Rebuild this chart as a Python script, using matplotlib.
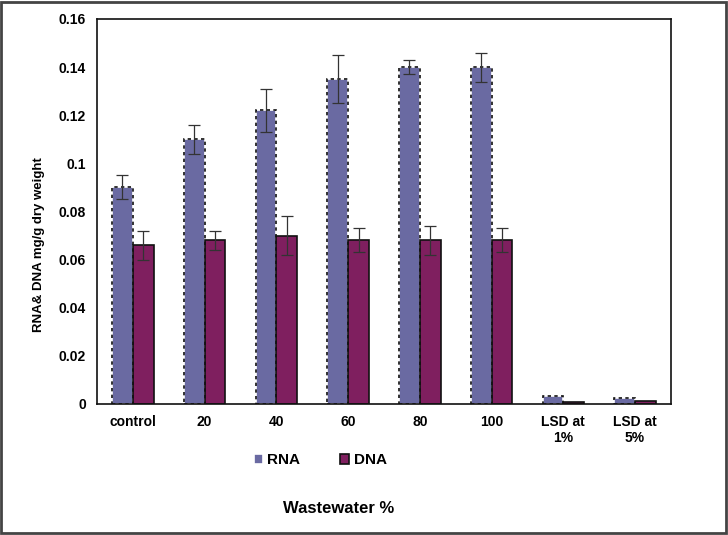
import numpy as np
import matplotlib
matplotlib.use('Agg')
import matplotlib.pyplot as plt
from matplotlib.patches import Rectangle

plt.rcParams['font.family'] = ['Liberation Sans', 'DejaVu Sans']
plt.rcParams['font.weight'] = 'bold'

# data
groups = ['control', '20', '40', '60', '80', '100', 'LSD at\n1%', 'LSD at\n5%']
rna = [0.090, 0.110, 0.122, 0.135, 0.140, 0.140, 0.0033, 0.0025]
rna_err = [0.005, 0.006, 0.009, 0.010, 0.003, 0.006, 0, 0]
dna = [0.066, 0.068, 0.070, 0.068, 0.068, 0.068, 0.0008, 0.0012]
dna_err = [0.006, 0.004, 0.008, 0.005, 0.006, 0.005, 0, 0]

x = np.arange(len(groups))
w = 0.29

fig = plt.figure(figsize=(7.28, 5.35), dpi=100)
ax = fig.add_axes([0.1332, 0.2449, 0.7885, 0.7196])

rna_err_plot = [e if e > 0 else np.nan for e in rna_err]
dna_err_plot = [e if e > 0 else np.nan for e in dna_err]

ax.bar(x - w / 2, rna, w, color='#6a6aa2', edgecolor='white', linewidth=1.2, label='RNA', zorder=2)
ax.bar(x - w / 2, rna, w, color='none', edgecolor='#111111', linewidth=1.2, linestyle=(0, (2, 2)), zorder=3)
ax.bar(x + w / 2, dna, w, color='#7f1f5f', edgecolor='#111111', linewidth=1.2, label='DNA', zorder=2)

ax.errorbar(x - w / 2, rna, yerr=rna_err_plot, fmt='none', ecolor='#333333', elinewidth=0.9, capsize=4, capthick=0.9, zorder=4)
ax.errorbar(x + w / 2, dna, yerr=dna_err_plot, fmt='none', ecolor='#333333', elinewidth=0.9, capsize=4, capthick=0.9, zorder=4)

ax.set_xlim(-0.5, len(groups) - 0.5)
ax.set_ylim(0, 0.16)
ax.set_yticks([0, 0.02, 0.04, 0.06, 0.08, 0.1, 0.12, 0.14, 0.16])
ax.set_yticklabels(['0', '0.02', '0.04', '0.06', '0.08', '0.1', '0.12', '0.14', '0.16'])
ax.set_xticks(x)
ax.set_xticklabels(groups)
ax.tick_params(length=0, labelsize=10, pad=8)
for lbl in ax.get_xticklabels() + ax.get_yticklabels():
    lbl.set_fontweight('bold')
for s in ax.spines.values():
    s.set_linewidth(1.2)
    s.set_color('#111111')

ax.set_ylabel('RNA& DNA mg/g dry weight', fontsize=9.5, fontweight='bold')
ax.yaxis.set_label_coords(-0.09, 0.413)

leg = fig.legend(loc='center', bbox_to_anchor=(0.44, 0.14), ncol=2, frameon=False,
                 fontsize=11, handlelength=0.6, handleheight=0.6, columnspacing=2.6,
                 handletextpad=0.3)
for t in leg.get_texts():
    t.set_fontweight('bold')

fig.text(0.465, 0.05, 'Wastewater %', ha='center', va='center', fontsize=12, fontweight='bold')

fig.add_artist(Rectangle((0.002, 0.003), 0.995, 0.994, transform=fig.transFigure,
                         fill=False, edgecolor='#444444', linewidth=2))

fig.savefig('out.png', dpi=100)
